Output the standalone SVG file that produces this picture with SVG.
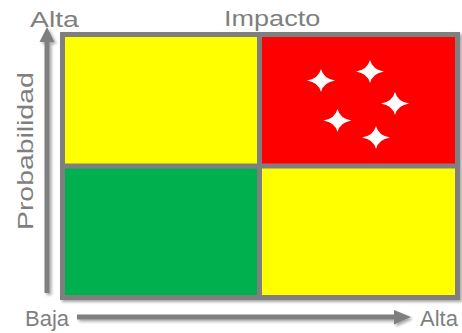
<svg xmlns="http://www.w3.org/2000/svg" xmlns:xlink="http://www.w3.org/1999/xlink" width="462" height="333" viewBox="0 0 462 333">
<style>
.lbl{font-family:"Liberation Sans",Arial,sans-serif;font-size:22px;fill:#7f7f7f}
.ax{fill:#7f7f7f}
</style>
<defs>
<filter id="sh" x="-5%" y="-5%" width="115%" height="115%">
<feGaussianBlur in="SourceAlpha" stdDeviation="1.5"/>
<feOffset dx="2" dy="2" result="b"/>
<feComponentTransfer><feFuncA type="linear" slope="0.35"/></feComponentTransfer>
<feMerge><feMergeNode/><feMergeNode in="SourceGraphic"/></feMerge>
</filter>
<path id="star" d="M-14,0 Q-2.5,-1.8 0,-11.5 Q2.5,-1.8 14,0 Q2.5,1.8 0,11.5 Q-2.5,1.8 -14,0 Z" fill="#fff"/>
</defs>
<rect width="462" height="333" fill="#fff"/>
<g id="matrix" filter="url(#sh)">
<rect id="q-tl" x="62.5" y="34.5" width="197" height="131.5" fill="#ffff00"/>
<rect id="q-tr" x="259.5" y="34.5" width="198" height="131.5" fill="#ff0000"/>
<rect id="q-bl" x="62.5" y="166" width="197" height="131.5" fill="#00b050"/>
<rect id="q-br" x="259.5" y="166" width="198" height="131.5" fill="#ffff00"/>
<rect x="62.5" y="34.5" width="395" height="263" fill="none" stroke="#7f7f7f" stroke-width="5"/>
<line x1="259.5" y1="34.5" x2="259.5" y2="297.5" stroke="#7f7f7f" stroke-width="5"/>
<line x1="62.5" y1="166" x2="457.5" y2="166" stroke="#7f7f7f" stroke-width="5"/>
</g>
<g id="stars">
<use xlink:href="#star" x="321" y="80.5"/>
<use xlink:href="#star" x="370" y="71.5"/>
<use xlink:href="#star" x="395" y="103.5"/>
<use xlink:href="#star" x="337.5" y="120.5"/>
<use xlink:href="#star" x="376" y="137.5"/>
</g>
<g id="connectors" filter="url(#sh)">
<path class="ax" d="M44.5,293 L44.5,42 L39.5,42 L47,27 L54.5,42 L49.5,42 L49.5,293 Z"/>
<path class="ax" d="M77,314.5 L394,314.5 L394,310 L411,317 L394,324.5 L394,319.5 L77,319.5 Z"/>
</g>
<g id="labels">
<text class="lbl" transform="translate(30,26.5) scale(1.29,1)">Alta</text>
<text class="lbl" transform="translate(224,26) scale(1.23,1)">Impacto</text>
<text class="lbl" transform="translate(33,230) rotate(-90) scale(1.29,1)">Probabilidad</text>
<text class="lbl" x="25" y="326">Baja</text>
<text class="lbl" x="420" y="326">Alta</text>
</g>
</svg>
